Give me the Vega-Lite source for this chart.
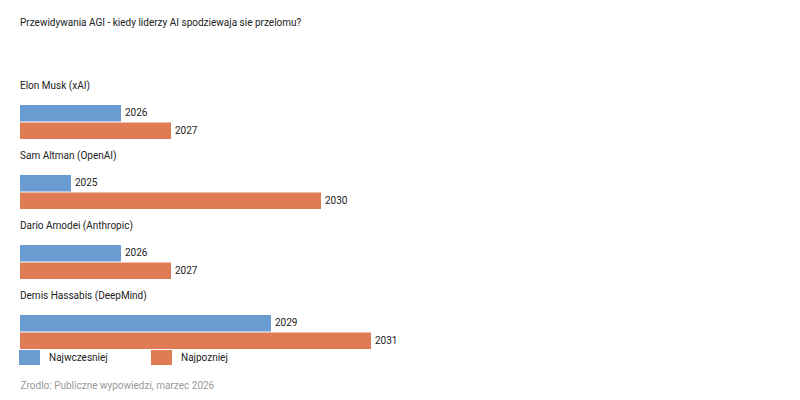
{
  "$schema": "https://vega.github.io/schema/vega-lite/v6.json",
  "description": "Przewidywania AGI - najwczesniejszy i najpozniejszy rok wedlug liderow AI",
  "autosize": "none",
  "width": 750,
  "height": 280,
  "padding": {"left": 21, "top": 87, "right": 29, "bottom": 33},
  "background": "white",
  "config": {
    "font": "Roboto",
    "view": {"stroke": null}
  },
  "title": {
    "text": "Przewidywania AGI - kiedy liderzy AI spodziewaja sie przelomu?",
    "anchor": "start",
    "frame": "group",
    "fontSize": 10,
    "fontWeight": "normal",
    "color": "#222",
    "dx": -1,
    "offset": 53
  },
  "data": {
    "values": [
      {"person": "Elon Musk (xAI)", "kind": "Najwczesniej", "year": 2026},
      {"person": "Elon Musk (xAI)", "kind": "Najpozniej", "year": 2027},
      {"person": "Sam Altman (OpenAI)", "kind": "Najwczesniej", "year": 2025},
      {"person": "Sam Altman (OpenAI)", "kind": "Najpozniej", "year": 2030},
      {"person": "Dario Amodei (Anthropic)", "kind": "Najwczesniej", "year": 2026},
      {"person": "Dario Amodei (Anthropic)", "kind": "Najpozniej", "year": 2027},
      {"person": "Demis Hassabis (DeepMind)", "kind": "Najwczesniej", "year": 2029},
      {"person": "Demis Hassabis (DeepMind)", "kind": "Najpozniej", "year": 2031}
    ]
  },
  "encoding": {
    "y": {
      "field": "person",
      "type": "nominal",
      "sort": null,
      "scale": {"paddingInner": 0.514, "paddingOuter": 0.257},
      "axis": null
    }
  },
  "layer": [
    {
      "mark": {"type": "bar", "cornerRadius": 0},
      "encoding": {
        "x": {
          "field": "year",
          "type": "quantitative",
          "scale": {"domain": [2024, 2039], "zero": false, "nice": false},
          "axis": {
            "domain": false,
            "ticks": false,
            "labels": false,
            "grid": false,
            "title": "Zrodlo: Publiczne wypowiedzi, marzec 2026",
            "titleAnchor": "start",
            "titleX": -1,
            "titleFontSize": 10,
            "titleFontWeight": "normal",
            "titleColor": "#999",
            "titlePadding": 13
          }
        },
        "x2": {"datum": 2023.98},
        "yOffset": {
          "field": "kind",
          "type": "nominal",
          "sort": ["Najwczesniej", "Najpozniej"],
          "scale": {"paddingInner": 0.06, "paddingOuter": 0}
        },
        "color": {
          "field": "kind",
          "type": "nominal",
          "sort": ["Najwczesniej", "Najpozniej"],
          "scale": {"domain": ["Najwczesniej", "Najpozniej"], "range": ["#6a9bd1", "#e07c54"]},
          "legend": {
            "title": null,
            "orient": "none",
            "direction": "horizontal",
            "legendX": 1,
            "legendY": 263,
            "symbolType": "M-1.4,-1H1.4V1H-1.4Z",
            "symbolSize": 225,
            "symbolStrokeWidth": 0,
            "symbolOpacity": 1,
            "labelFontSize": 10,
            "labelColor": "#222",
            "labelOffset": 12,
            "columnPadding": 43
          }
        }
      }
    },
    {
      "mark": {"type": "text", "align": "left", "baseline": "middle", "dx": 4, "fontSize": 10, "color": "#222"},
      "encoding": {
        "x": {"field": "year", "type": "quantitative"},
        "yOffset": {"field": "kind", "type": "nominal", "sort": ["Najwczesniej", "Najpozniej"]},
        "text": {"field": "year", "type": "quantitative", "format": "d"}
      }
    },
    {
      "transform": [{"filter": "datum.kind === 'Najwczesniej'"}],
      "mark": {"type": "text", "align": "left", "baseline": "middle", "dy": -36, "fontSize": 10, "color": "#222"},
      "encoding": {
        "x": {"datum": 2023.98},
        "text": {"field": "person"}
      }
    }
  ]
}
